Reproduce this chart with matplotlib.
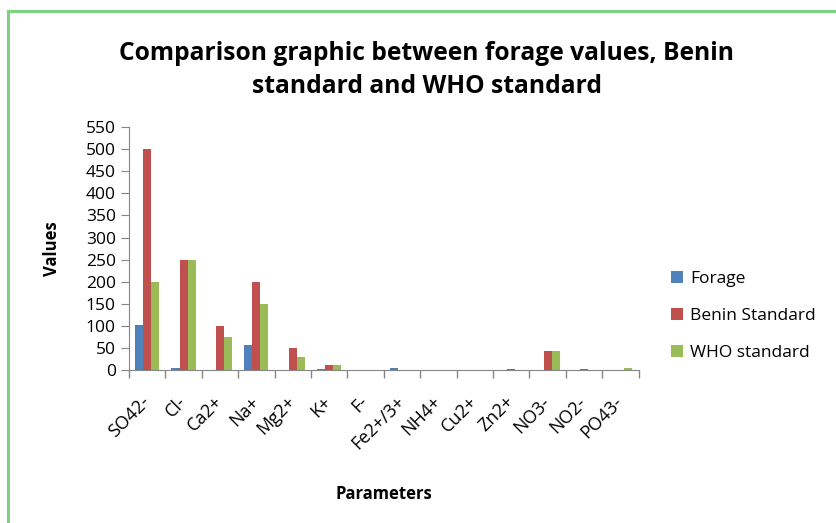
import matplotlib
matplotlib.use("Agg")
import matplotlib.pyplot as plt
import numpy as np
from matplotlib.lines import Line2D

plt.rcParams["font.family"] = ["Open Sans", "DejaVu Sans"]

params = ["SO42-", "Cl-", "Ca2+", "Na+", "Mg2+", "K+", "F-", "Fe2+/3+",
          "NH4+", "Cu2+", "Zn2+", "NO3-", "NO2-", "PO43-"]
forage = [101, 5, 0, 57, 0, 3, 0, 5, 0, 0, 0, 0, 0, 0]
benin = [500, 250, 100, 200, 50, 11, 0, 0, 0, 0, 1.5, 44, 1.5, 0]
who = [200, 250, 75, 150, 30, 11, 0, 0, 0, 0, 0, 44, 0, 4]

series = [("Forage", forage, "#4F81BD"),
          ("Benin Standard", benin, "#C0504D"),
          ("WHO standard", who, "#9BBB59")]

fig = plt.figure(figsize=(8.37, 5.23), dpi=100)
ax = fig.add_axes([0.154, 0.2925, 0.609, 0.4645])

x = np.arange(len(params))
w = 0.22
for k, (name, vals, col) in enumerate(series):
    ax.bar(x + (k - 1) * w, vals, width=w, color=col, label=name)

ax.set_xlim(-0.5, len(params) - 0.5)
ax.set_ylim(0, 550)
ax.set_yticks(np.arange(0, 551, 50))
ax.set_xticks(x)
ax.set_xticklabels(params, rotation=45, ha="right", va="center",
                   rotation_mode="anchor", fontsize=13)
ax.set_xticks(np.arange(-0.5, len(params)), minor=True)
ax.tick_params(axis="x", which="major", length=0, pad=21)
ax.tick_params(axis="x", which="minor", length=6, color="#868686", width=1)
ax.tick_params(axis="y", length=6, color="#868686", labelsize=12.5)
for s in ["top", "right"]:
    ax.spines[s].set_visible(False)
for s in ["left", "bottom"]:
    ax.spines[s].set_color("#868686")

ax.set_ylabel("Values", fontsize=12, fontweight="bold", labelpad=18)
ax.set_xlabel("Parameters", fontsize=12, fontweight="bold", labelpad=28)
ax.xaxis.set_label_coords(0.5, -0.475)

fig.text(0.51, 0.866, "Comparison graphic between forage values, Benin\nstandard and WHO standard",
         ha="center", va="center", fontsize=17.7, fontweight="bold", linespacing=1.45)

ax.legend(loc="center left", bbox_to_anchor=(1.05, 0.222), frameon=False,
          fontsize=12.5, handlelength=0.68, handleheight=0.68, labelspacing=1.2,
          handletextpad=0.4, borderaxespad=0)

# green frame round the chart
fig.add_artist(Line2D([0.009, 1.0], [0.979, 0.979], color="#7FD184", lw=2.2,
                      transform=fig.transFigure))
fig.add_artist(Line2D([0.009, 0.009], [0.0, 0.979], color="#7FD184", lw=2.2,
                      transform=fig.transFigure))

fig.savefig("out.png", dpi=100)
